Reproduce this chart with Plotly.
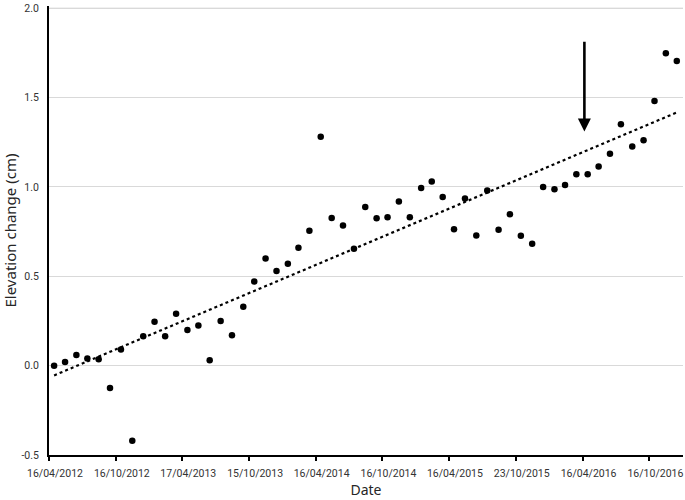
import numpy as np
import pandas as pd
import plotly.graph_objects as go

# Measurement dates (monthly, end of month)
dates = [
    "2012-04-30", "2012-05-30", "2012-06-30", "2012-07-30", "2012-08-30", "2012-09-30",
    "2012-10-30", "2012-11-30", "2012-12-30", "2013-01-30", "2013-02-28", "2013-03-30",
    "2013-04-30", "2013-05-30", "2013-06-30", "2013-07-30", "2013-08-30", "2013-09-30",
    "2013-10-30", "2013-11-30", "2013-12-30", "2014-01-30", "2014-02-28", "2014-03-30",
    "2014-04-30", "2014-05-30", "2014-06-30", "2014-07-30", "2014-08-30", "2014-09-30",
    "2014-10-30", "2014-11-30", "2014-12-30", "2015-01-30", "2015-02-28", "2015-03-30",
    "2015-04-30", "2015-05-30", "2015-06-30", "2015-07-30", "2015-08-30", "2015-09-30",
    "2015-10-30", "2015-11-30", "2015-12-30", "2016-01-30", "2016-02-28", "2016-03-30",
    "2016-04-30", "2016-05-30", "2016-06-30", "2016-07-30", "2016-08-30", "2016-09-30",
    "2016-10-30", "2016-11-30", "2016-12-30",
]

elevation_change = [
    0.00, 0.02, 0.06, 0.04, 0.035, -0.125, 0.09, -0.42, 0.165, 0.245,
    0.165, 0.29, 0.20, 0.225, 0.03, 0.25, 0.17, 0.33, 0.47, 0.60,
    0.53, 0.57, 0.66, 0.755, 1.28, 0.826, 0.784, 0.654, 0.888, 0.824,
    0.83, 0.918, 0.83, 0.994, 1.03, 0.943, 0.763, 0.935, 0.728, 0.98,
    0.76, 0.847, 0.726, 0.682, 1.00, 0.987, 1.011, 1.07, 1.07, 1.114,
    1.186, 1.35, 1.226, 1.261, 1.48, 1.748, 1.704,
]

tick_labels = [
    "16/04/2012", "16/10/2012", "17/04/2013", "15/10/2013", "16/04/2014",
    "16/10/2014", "16/04/2015", "23/10/2015", "16/04/2016", "16/10/2016",
]
y_ticks = [-0.5, 0.0, 0.5, 1.0, 1.5, 2.0]
y_tick_labels = ["-0.5", "0.0", "0.5", "1.0", "1.5", "2.0"]

axis_start = "2012-04-16"
axis_end = "2017-01-16"
arrow_date = "2016-04-21"
arrow_tip = 1.31
arrow_tail = 1.82

# tick positions: evenly spaced, six months apart
start = pd.Timestamp(axis_start)
tick_vals = [start + pd.DateOffset(months=6 * k) for k in range(len(tick_labels))]

# linear trend line
d = pd.to_datetime(pd.Series(dates))
days = (d - d.iloc[0]).dt.days.values.astype(float)
slope, intercept = np.polyfit(days, np.array(elevation_change), 1)
trend_x = [dates[0], dates[-1]]
trend_y = [intercept, intercept + slope * days[-1]]

fig = go.Figure()
fig.add_trace(go.Scatter(
    x=trend_x, y=trend_y, mode="lines",
    line=dict(color="black", width=2.2, dash="dot"),
    hoverinfo="skip", showlegend=False,
))
fig.add_trace(go.Scatter(
    x=dates, y=elevation_change, mode="markers",
    marker=dict(color="black", size=6.5),
    showlegend=False, cliponaxis=False,
))

# top gridline (plotly omits the grid line at the plot edge)
fig.add_shape(
    type="line", xref="paper", yref="y", x0=0, x1=1,
    y0=y_ticks[-1], y1=y_ticks[-1],
    line=dict(color="#d9d9d9", width=1), layer="below",
)

fig.add_annotation(
    x=arrow_date, y=arrow_tip, ax=arrow_date, ay=arrow_tail,
    xref="x", yref="y", axref="x", ayref="y",
    showarrow=True, arrowhead=2, arrowsize=1.0, arrowwidth=2.6,
    arrowcolor="black", standoff=0, text="",
)

# y-axis title
fig.add_annotation(
    text="Elevation change (cm)", textangle=-90,
    xref="paper", yref="paper", x=0, y=0.5, xshift=-40,
    xanchor="center", yanchor="middle", showarrow=False,
    font=dict(family="Noto Sans, sans-serif", size=15, color="#262626"),
)

tick_font = "Roboto, Noto Sans, sans-serif"
fig.update_layout(
    width=685, height=500,
    margin=dict(l=49, r=2, t=4, b=45),
    paper_bgcolor="white", plot_bgcolor="white",
    font=dict(family=tick_font, color="#333333", size=10),
    xaxis=dict(
        type="date", range=[axis_start, axis_end],
        tickvals=tick_vals, ticktext=tick_labels,
        showgrid=False, zeroline=False,
        showline=True, linecolor="black", linewidth=2,
        ticks="outside", ticklen=4, tickwidth=1.5, tickcolor="black",
        tickfont=dict(family=tick_font, size=10.5, color="#333333"),
        ticklabelshift=6, ticklabelstandoff=3,
        ticklabeloverflow="allow",
        title=dict(text="Date", font=dict(family="Noto Sans, sans-serif", size=14, color="#262626"),
                   standoff=7),
    ),
    yaxis=dict(
        range=[-0.5, 2.012], tickvals=y_ticks, ticktext=y_tick_labels,
        showgrid=True, gridcolor="#d9d9d9", gridwidth=1,
        zeroline=False, showline=True, linecolor="black", linewidth=2,
        ticks="", tickfont=dict(family=tick_font, size=10.5, color="#333333"),
        ticklabelstandoff=6, ticklabeloverflow="allow",
    ),
)

fig.write_html(
    "out.html",
    config={"displayModeBar": False},
    post_script="document.body.style.margin='0';document.body.style.padding='0';",
)
